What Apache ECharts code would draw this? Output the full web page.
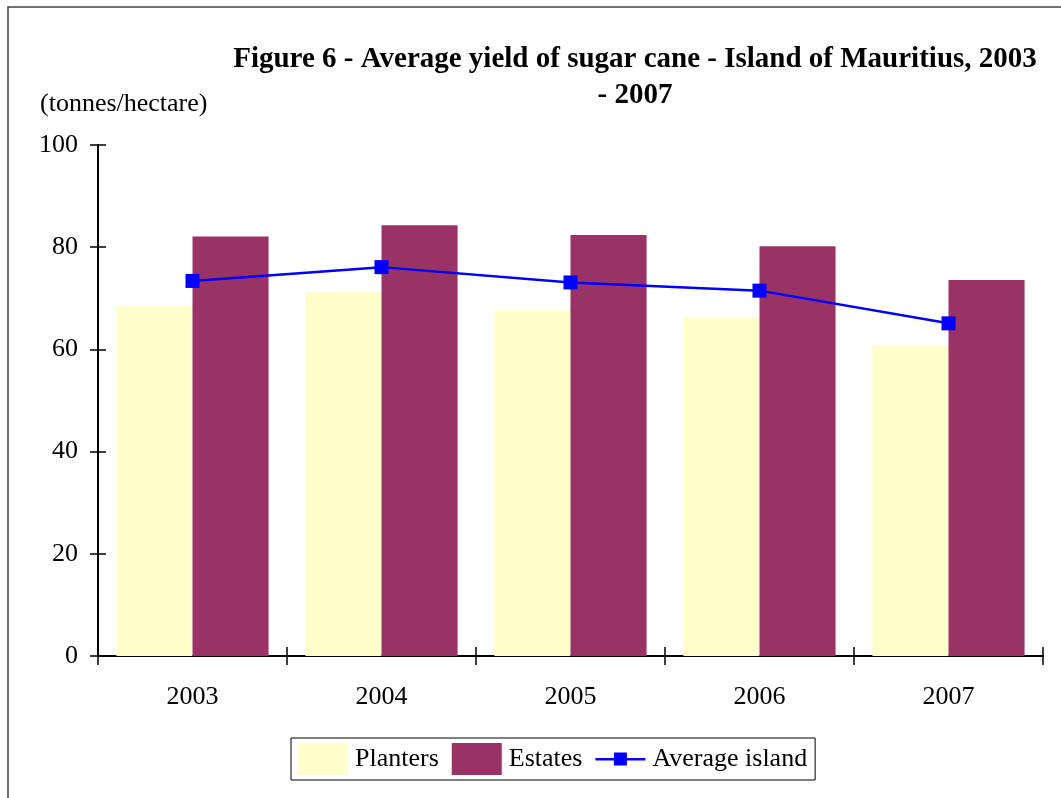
<!DOCTYPE html>
<html>
<head>
<meta charset="utf-8">
<script src="https://cdn.jsdelivr.net/npm/echarts@6/dist/echarts.min.js"></script>
<style>
  html, body { margin: 0; padding: 0; background: #fff; }
  #chart { width: 1061px; height: 798px; }
</style>
</head>
<body>
<div id="chart"></div>
<script>
// data (tonnes/hectare)
const years = ['2003', '2004', '2005', '2006', '2007']
const planters = [68.5, 71.3, 67.7, 66.3, 60.7]
const estates = [82.1, 84.3, 82.4, 80.2, 73.6]
const averageIsland = [73.4, 76.1, 73.1, 71.5, 65.1]
const yTicks = { min: 0, max: 100, interval: 20 }

const font = 'Liberation Serif, Times New Roman, serif'
const chart = echarts.init(document.getElementById('chart'))

const axisLine = { show: true, lineStyle: { color: '#000', width: 2 } }

const option = {
  animation: false,
  textStyle: { fontFamily: font },
  title: {
    text: 'Figure 6 - Average yield of sugar cane - Island of Mauritius, 2003\n- 2007',
    left: 630,
    top: 37,
    textAlign: 'center',
    textStyle: {
      fontFamily: font,
      fontWeight: 'bold',
      fontSize: 29,
      lineHeight: 36,
      color: '#000'
    }
  },
  graphic: [
    {
      type: 'rect',
      shape: { x: 8, y: 7, width: 1100, height: 900 },
      style: { fill: 'none', stroke: '#444', lineWidth: 1.5 },
      silent: true
    },
    {
      type: 'text',
      left: 40,
      top: 91,
      style: { text: '(tonnes/hectare)', font: '26px ' + font, fill: '#000' }
    }
  ],
  legend: {
    top: 738,
    left: 291,
    itemWidth: 50,
    itemHeight: 32,
    itemGap: 13,
    padding: [5, 8, 5, 7],
    borderColor: '#000',
    borderWidth: 1,
    textStyle: { fontFamily: font, fontSize: 26, color: '#000', padding: [0, 0, 0, 2] },
    data: [
      { name: 'Planters', icon: 'rect' },
      { name: 'Estates', icon: 'rect' },
      { name: 'Average island', icon: 'path://M0,15h50v2.5h-50z M18.5,9.5h13v13h-13z' }
    ]
  },
  grid: { left: 98, right: 18, top: 145, bottom: 142 },
  xAxis: [
    {
      type: 'category',
      data: years,
      position: 'bottom',
      axisLine: axisLine,
      axisTick: { show: true, length: 9, lineStyle: { color: '#000', width: 1.5 } },
      axisLabel: { fontSize: 26, color: '#000', margin: 28, fontFamily: font }
    },
    {
      type: 'category',
      data: years,
      position: 'bottom',
      axisLine: axisLine,
      axisTick: { show: true, inside: true, length: 9, lineStyle: { color: '#000', width: 1.5 } },
      axisLabel: { show: false }
    }
  ],
  yAxis: [
    {
      type: 'value',
      min: yTicks.min,
      max: yTicks.max,
      interval: yTicks.interval,
      axisLine: axisLine,
      axisTick: { show: true, length: 8, lineStyle: { color: '#000', width: 1.5 } },
      axisLabel: { fontSize: 26, color: '#000', margin: 20, fontFamily: font },
      splitLine: { show: false }
    },
    {
      type: 'value',
      position: 'left',
      min: yTicks.min,
      max: yTicks.max,
      interval: yTicks.interval,
      axisLine: axisLine,
      axisTick: { show: true, inside: true, length: 8, lineStyle: { color: '#000', width: 1.5 } },
      axisLabel: { show: false },
      splitLine: { show: false }
    }
  ],
  series: [
    {
      name: 'Planters',
      type: 'bar',
      data: planters,
      barGap: '0%',
      barCategoryGap: '19.5%',
      itemStyle: { color: '#FFFFCC' }
    },
    {
      name: 'Estates',
      type: 'bar',
      data: estates,
      itemStyle: { color: '#993366' }
    },
    {
      name: 'Average island',
      type: 'line',
      data: averageIsland,
      symbol: 'rect',
      symbolSize: 14,
      z: 5,
      lineStyle: { color: '#0000FF', width: 2.5 },
      itemStyle: { color: '#0000FF' }
    }
  ]
}

chart.setOption(option)
</script>
</body>
</html>
